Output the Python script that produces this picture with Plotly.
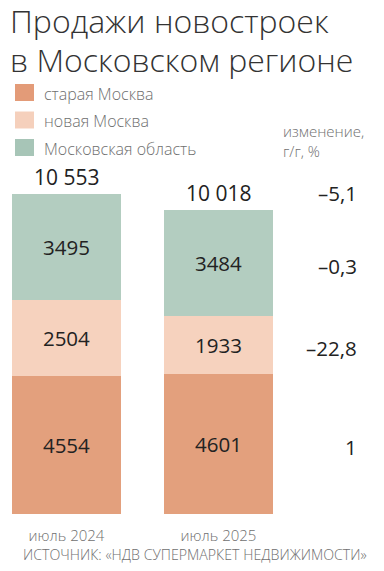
import plotly.graph_objects as go

# ---- data ----
categories = ["июль 2024", "июль 2025"]
series_names = ["старая Москва", "новая Москва", "Московская область"]
old_moscow = [4554, 4601]
new_moscow = [2504, 1933]
moscow_region = [3495, 3484]
totals = [10553, 10018]
# year-over-year change, %
change_total = "–5,1"
change_series = ["1", "–22,8", "–0,3"]  # same order as series_names
colors = ["#E3A07D", "#F6D2BE", "#B3CDC0"]
legend_colors = ["#E39B78", "#F5D0BC", "#A7C5B7"]
title_lines = ["Продажи новостроек", "в Московском регионе"]

W, H = 384, 571
def px_x(p): return p / W
def px_y(p): return 1 - p / H

FONT = "Open Sans"
DARK = "#222222"
GREY = "#6f6f6f"

fig = go.Figure()
series_values = [old_moscow, new_moscow, moscow_region]
for name, vals, col in zip(series_names, series_values, colors):
    fig.add_trace(go.Bar(
        x=categories, y=vals, name=name,
        marker=dict(color=col, line=dict(width=0)),
        text=[str(v) for v in vals], textposition="inside",
        insidetextanchor="middle",
        textfont=dict(family=FONT, size=20.5, color=DARK),
        showlegend=False, hoverinfo="skip",
    ))

ann = []
# title (two lines)
for i, line in enumerate(title_lines):
    ann.append(dict(x=px_x(8), y=px_y(-3 + 39 * i), xref="paper", yref="paper",
                    text=line, showarrow=False,
                    xanchor="left", yanchor="top", align="left",
                    font=dict(family=FONT, size=32, color="#333333", weight=300)))
# totals above bars
for c, t in zip(categories, totals):
    ann.append(dict(x=c, y=t, xref="x", yref="y", yshift=17,
                    text=f"{t:,}".replace(",", " "), showarrow=False,
                    yanchor="middle",
                    font=dict(family=FONT, size=21, color=DARK)))
# change column (aligned with second bar)
X_CHG = px_x(359)
ann.append(dict(x=X_CHG, y=totals[1], xref="paper", yref="y", yshift=17,
                text=change_total, showarrow=False, xanchor="right", yanchor="middle",
                font=dict(family=FONT, size=20.5, color=DARK)))
base = 0
for vals, ch in zip(series_values, change_series):
    mid = base + vals[1] / 2
    base += vals[1]
    ann.append(dict(x=X_CHG, y=mid, xref="paper", yref="y", yshift=-3,
                    text=ch, showarrow=False, xanchor="right", yanchor="middle",
                    font=dict(family=FONT, size=20.5, color=DARK)))
# column header
ann.append(dict(x=px_x(281), y=px_y(119), xref="paper", yref="paper",
                text="изменение,<br>г/г, %", showarrow=False, align="left",
                xanchor="left", yanchor="top",
                font=dict(family=FONT, size=15, color=GREY, weight=300)))
# legend (swatches + labels)
shapes = []
legend_y = [92.5, 120, 147.5]
for name, col, yc in zip(series_names, legend_colors, legend_y):
    shapes.append(dict(type="rect", xref="paper", yref="paper",
                       x0=px_x(15), x1=px_x(34), y0=px_y(yc - 8.5), y1=px_y(yc + 8.5),
                       fillcolor=col, line=dict(width=0)))
    ann.append(dict(x=px_x(42), y=px_y(yc + 1), xref="paper", yref="paper",
                    text=name, showarrow=False, xanchor="left", yanchor="middle",
                    font=dict(family=FONT, size=16, color=GREY, weight=300)))
# source
ann.append(dict(x=px_x(195), y=px_y(554), xref="paper", yref="paper",
                text="ИСТОЧНИК: «НДВ СУПЕРМАРКЕТ НЕДВИЖИМОСТИ»", showarrow=False,
                xanchor="center", yanchor="middle",
                font=dict(family=FONT, size=14.2, color=GREY, weight=300)))

# axes geometry
y0_px, px_per_unit = 514, 320 / 10553
y_max = 12000
y_top_px = y0_px - y_max * px_per_unit
x0_px, step_px = 66.5, 152

fig.update_layout(
    width=W, height=H, margin=dict(l=0, r=0, t=0, b=0),
    paper_bgcolor="white", plot_bgcolor="white",
    barmode="stack", bargap=1 - 109 / 152,
    showlegend=False,
    xaxis=dict(type="category", range=[-x0_px / step_px, (W - x0_px) / step_px],
               showgrid=False, zeroline=False, showline=False,
               ticks="outside", ticklen=8, tickcolor="rgba(0,0,0,0)",
               tickfont=dict(family=FONT, size=15, color=GREY, weight=300)),
    yaxis=dict(range=[0, y_max], domain=[px_y(y0_px), px_y(y_top_px)],
               visible=False),
    annotations=ann, shapes=shapes,
)

fig.write_html("out.html")
